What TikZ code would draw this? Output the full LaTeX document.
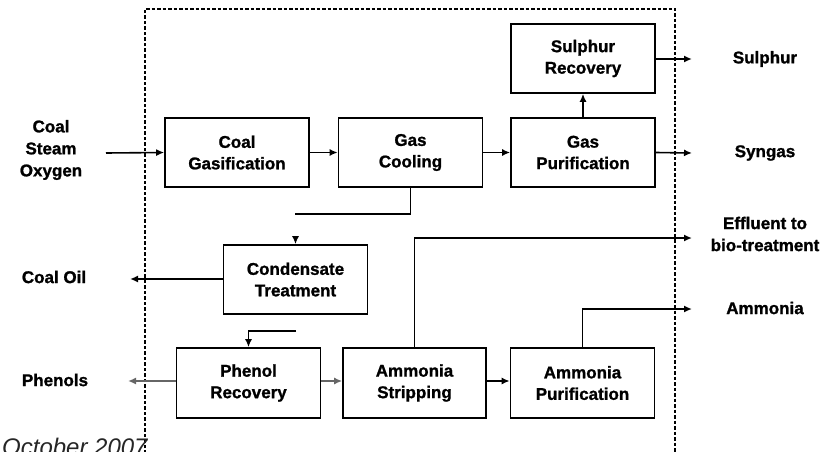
\documentclass[tikz,border=0pt]{standalone}
\usepackage{fontspec}
\setmainfont[BoldFeatures={FakeBold=1.2}]{Liberation Sans}
\usetikzlibrary{arrows.meta}
\begin{document}
\begin{tikzpicture}[x=1pt,y=-1pt,
  proc/.style={draw,line width=1.6pt,minimum width=144pt,minimum height=69pt,inner sep=0pt,
    font=\fontsize{17}{21.5}\selectfont\bfseries,align=center},
  lbl/.style={font=\fontsize{17}{22}\selectfont\bfseries,align=center,inner sep=0pt},
  flow/.style={line width=1.6pt,-{Latex[length=8pt,width=7pt]}},
  grayflow/.style={flow,draw=black!60}]
\useasboundingbox (0,0) rectangle (824,452);
\clip (0,0) rectangle (824,452);
% dashed battery limit
\draw[line width=1.3pt,dash pattern=on 3.5pt off 2pt] (145,470) -- (145,9) -- (675,9) -- (675,470);
% process boxes
\node[proc] (cg) at (237,152.5) {Coal\\Gasification};
\node[proc] (gc) at (410.5,152.5) {Gas\\Cooling};
\node[proc] (gp) at (583,152.5) {Gas\\Purification};
\node[proc] (sr) at (583,58.5) {Sulphur\\Recovery};
\node[proc] (ct) at (295.5,279.5) {Condensate\\Treatment};
\node[proc,minimum height=70pt] (pr) at (248.5,383) {Phenol\\Recovery};
\node[proc,minimum height=70pt,minimum width=143pt] (as) at (414.5,383) {Ammonia\\Stripping};
\node[proc,minimum height=70pt] (ap) at (582.5,383) {Ammonia\\Purification};
% labels
\node[lbl] (feed) at (51,150) {Coal\\Steam\\Oxygen};
\node[lbl] (sulphur) at (765,59) {Sulphur};
\node[lbl] (syngas) at (765,153) {Syngas};
\node[lbl] (eff) at (765,234) {Effluent to\\bio-treatment};
\node[lbl] (amm) at (765,308) {Ammonia};
\node[lbl] (oil) at (54,277) {Coal Oil};
\node[lbl] (phen) at (55,380) {Phenols};
\node[anchor=base west,inner sep=0pt,font=\fontsize{24}{24}\selectfont\itshape,text=black!85] (date) at (2,455) {October 2007};
% coordinates
\coordinate (feedend) at (106,153);
\coordinate (sulout) at (692,59);
\coordinate (synout) at (692,153);
\coordinate (effout) at (692,238);
\coordinate (ammout) at (692,309);
\coordinate (oilout) at (130,279);
\coordinate (phenout) at (128,381);
\coordinate (gcturn) at (295,214);
\coordinate (ctstub) at (295.5,236);
\coordinate (prfeed) at (296,331);
% connectors
\draw[flow] (feedend) -- (cg.west);
\draw[flow] (cg.east) -- (gc.west);
\draw[flow] (gc.east) -- (gp.west);
\draw[flow] (gp.east) -- (synout);
\draw[flow] (gp.north) -- (sr.south);
\draw[flow] (sr.east|-sulout) -- (sulout);
\draw[line width=1.6pt] (gc.south) |- (gcturn);
\draw[flow] (ctstub) -- (ct.north);
\draw[flow] (ct.west|-oilout) -- (oilout);
\draw[flow] (prfeed) -| (pr.north);
\draw[grayflow] (pr.west|-phenout) -- (phenout);
\draw[grayflow] (pr.east|-phenout) -- (as.west|-phenout);
\draw[flow] (as.east|-phenout) -- (ap.west|-phenout);
\draw[flow] (as.north) |- (effout);
\draw[flow] (ap.north) |- (ammout);
\end{tikzpicture}
\end{document}
